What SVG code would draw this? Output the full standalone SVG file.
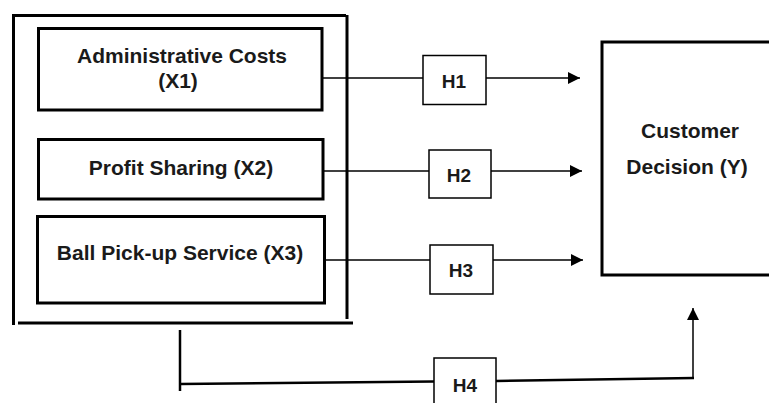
<svg xmlns="http://www.w3.org/2000/svg" width="769" height="403" viewBox="0 0 769 403">
<style>
  .t { font-family: "Liberation Sans", Arial, sans-serif; font-weight: bold; font-size: 21px; fill: #1a1a1a; text-anchor: middle; }
  .h { font-family: "Liberation Sans", Arial, sans-serif; font-weight: bold; font-size: 19px; fill: #1a1a1a; text-anchor: middle; }
  .thick { fill: none; stroke: #000; stroke-width: 3; }
  .thin { fill: #fff; stroke: #000; stroke-width: 1.5; }
  .conn { fill: none; stroke: #000; stroke-width: 1.5; }
  .conn2 { fill: none; stroke: #000; stroke-width: 2.5; }
</style>
<defs>
  <marker id="arr" markerUnits="userSpaceOnUse" markerWidth="14" markerHeight="12" refX="12" refY="6" orient="auto">
    <path d="M0,0 L12,6 L0,12 Z" fill="#000"/>
  </marker>
</defs>
<rect width="769" height="403" fill="#fff"/>

<g id="outer-group">
  <line x1="12" y1="15.5" x2="346" y2="15.5" class="thick"/>
  <line x1="13.5" y1="15" x2="13.5" y2="325" class="thick"/>
  <line x1="347" y1="15" x2="347" y2="319" class="thick"/>
  <line x1="18" y1="323" x2="353" y2="323" class="thick"/>
</g>

<g id="connectors">
  <line x1="322" y1="78" x2="423" y2="78" class="conn"/>
  <line x1="486" y1="78" x2="580" y2="78" class="conn" marker-end="url(#arr)"/>
  <line x1="323" y1="171" x2="429" y2="171" class="conn"/>
  <line x1="491" y1="171" x2="582" y2="171" class="conn" marker-end="url(#arr)"/>
  <line x1="325" y1="260" x2="430" y2="260" class="conn"/>
  <line x1="493" y1="260" x2="583" y2="260" class="conn" marker-end="url(#arr)"/>
  <line x1="180" y1="330" x2="180" y2="391" class="conn2"/>
  <line x1="180" y1="384" x2="434" y2="381.5" class="conn2"/>
  <line x1="496" y1="381" x2="694" y2="378" class="conn2"/>
  <line x1="693" y1="378" x2="693" y2="308" class="conn" marker-end="url(#arr)"/>
</g>

<g id="x1">
  <rect x="38.5" y="28.5" width="283.5" height="81.5" class="thick"/>
  <text x="182" y="63" class="t">Administrative Costs</text>
  <text x="178" y="88" class="t">(X1)</text>
</g>
<g id="x2">
  <rect x="38.5" y="139.5" width="284.5" height="59.5" class="thick"/>
  <text x="181" y="175" class="t">Profit Sharing (X2)</text>
</g>
<g id="x3">
  <rect x="37.5" y="216.5" width="287" height="86.5" class="thick"/>
  <text x="180" y="260" class="t">Ball Pick-up Service (X3)</text>
</g>

<g id="y">
  <path d="M772,42 L602,42 L602,275 L772,275" class="thick"/>
  <text x="690" y="138" class="t">Customer</text>
  <text x="687" y="174" class="t">Decision (Y)</text>
</g>

<g id="h1">
  <rect x="423" y="55.5" width="63" height="49" class="thin"/>
  <text x="454" y="88" class="h">H1</text>
</g>
<g id="h2">
  <rect x="429" y="150" width="62" height="48" class="thin"/>
  <text x="459" y="182" class="h">H2</text>
</g>
<g id="h3">
  <rect x="430" y="245" width="63" height="49" class="thin"/>
  <text x="461" y="277" class="h">H3</text>
</g>
<g id="h4">
  <rect x="434" y="358" width="62" height="60" class="thin"/>
  <text x="465" y="392" class="h">H4</text>
</g>
</svg>
